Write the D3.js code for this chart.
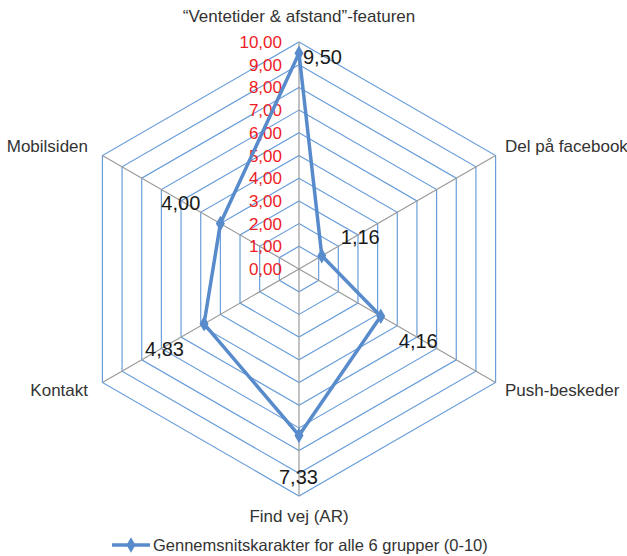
<!DOCTYPE html>
<html>
<head>
<meta charset="utf-8">
<script src="https://cdn.jsdelivr.net/npm/d3@7"></script>
<style>
body { margin: 0; background: #fff; }
text { font-family: "Liberation Sans", Arial, sans-serif; }
</style>
</head>
<body>
<svg width="627" height="556"></svg>
<script>
var categories = ["\u201cVentetider & afstand\u201d-featuren", "Del på facebook", "Push-beskeder", "Find vej (AR)", "Kontakt", "Mobilsiden"];
var values = [9.50, 1.16, 4.16, 7.33, 4.83, 4.00];
var ticks = [0, 1, 2, 3, 4, 5, 6, 7, 8, 9, 10];
var seriesName = "Gennemsnitskarakter for alle 6 grupper (0-10)";

var svg = d3.select("svg");
var cx = 299, cy = 269;
var r = d3.scaleLinear().domain([0, 10]).range([0, 227]);
var ang = d3.scaleLinear().domain([0, categories.length]).range([0, 2 * Math.PI]);
var fmt = function(v) { return d3.format(".2f")(v).replace(".", ","); };

function pt(i, v) {
	var a = ang(i);
	return [cx + r(v) * Math.sin(a), cy - r(v) * Math.cos(a)];
}

var lineColor = "#588bcb";

// rings
var g = svg.append("g");
g.selectAll("polygon.ring")
	.data(ticks.slice(1))
	.enter().append("polygon")
		.attr("class", "ring")
		.attr("points", function(t) { return categories.map(function(c, i) { return pt(i, t).join(","); }).join(" "); })
		.attr("fill", "none")
		.attr("stroke", "#6a9edb")
		.attr("stroke-width", 1.2);

// spokes
g.selectAll("line.spoke")
	.data(categories)
	.enter().append("line")
		.attr("class", "spoke")
		.attr("x1", cx).attr("y1", cy)
		.attr("x2", function(d, i) { return pt(i, 10)[0]; })
		.attr("y2", function(d, i) { return pt(i, 10)[1]; })
		.attr("stroke", "#9a9a9a")
		.attr("stroke-width", 1.2);

// tick labels
g.selectAll("text.tick")
	.data(ticks)
	.enter().append("text")
		.attr("class", "tick")
		.attr("x", 282)
		.attr("y", function(t) { return cy - r(t) + 6; })
		.attr("text-anchor", "end")
		.attr("fill", "#ee1c25")
		.style("font-size", "17px")
		.text(fmt);

// category labels
var catPos = [
	{x: 299, y: 22, a: "middle"},
	{x: 505, y: 152, a: "start"},
	{x: 505, y: 396, a: "start"},
	{x: 299, y: 522, a: "middle"},
	{x: 88, y: 396, a: "end"},
	{x: 88, y: 152, a: "end"}
];
g.selectAll("text.cat")
	.data(categories)
	.enter().append("text")
		.attr("class", "cat")
		.attr("x", function(d, i) { return catPos[i].x; })
		.attr("y", function(d, i) { return catPos[i].y; })
		.attr("text-anchor", function(d, i) { return catPos[i].a; })
		.attr("fill", "#333")
		.style("font-size", "17px")
		.text(function(d) { return d; });

// series
var line = d3.line().curve(d3.curveLinearClosed);
svg.append("path")
	.attr("d", line(values.map(function(v, i) { return pt(i, v); })))
	.attr("fill", "none")
	.attr("stroke", lineColor)
	.attr("stroke-width", 3.5)
	.attr("stroke-linejoin", "round");

var diamond = d3.symbol().type(d3.symbolDiamond).size(70);
svg.selectAll("path.pt")
	.data(values)
	.enter().append("path")
		.attr("class", "pt")
		.attr("d", diamond)
		.attr("transform", function(v, i) { return "translate(" + pt(i, v) + ")"; })
		.attr("fill", lineColor);

// value labels
var off = [[4, 11], [19, -12], [18, 32], [-20, 49], [-59, 32], [-59, -14]];
svg.selectAll("text.val")
	.data(values)
	.enter().append("text")
		.attr("class", "val")
		.attr("x", function(v, i) { return pt(i, v)[0] + off[i][0]; })
		.attr("y", function(v, i) { return pt(i, v)[1] + off[i][1]; })
		.attr("fill", "#1a1a1a")
		.style("font-size", "20px")
		.text(fmt);

// legend
var lg = svg.append("g").attr("transform", "translate(112,545)");
lg.append("line").attr("x1", 0).attr("x2", 38).attr("y1", 0).attr("y2", 0)
	.attr("stroke", lineColor).attr("stroke-width", 3.5);
lg.append("path").attr("d", diamond).attr("transform", "translate(19,0)").attr("fill", lineColor);
lg.append("text").attr("x", 41).attr("y", 6)
	.attr("fill", "#333").style("font-size", "16.5px").text(seriesName);
</script>
</body>
</html>
